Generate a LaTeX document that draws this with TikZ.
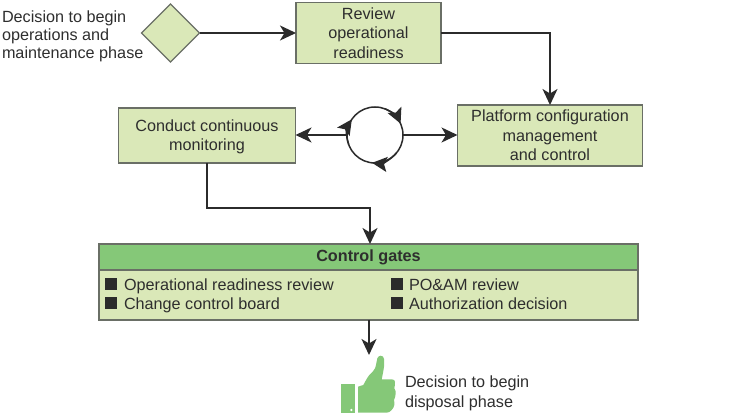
\documentclass[tikz,border=0pt]{standalone}
\usepackage{fontspec}
\setmainfont{Liberation Sans}
\usetikzlibrary{arrows.meta,shapes.geometric,positioning}
\definecolor{lightg}{HTML}{DAE8B8}
\definecolor{headg}{HTML}{85C878}
\definecolor{edgeg}{HTML}{6A6F66}
\definecolor{ink}{HTML}{2B2B2B}
\definecolor{txt}{HTML}{2E2E2E}
\tikzset{
  x=1pt,y=1pt,
  every node/.style={font=\fontsize{16.2}{19.3}\selectfont,text=txt,inner sep=0pt,outer sep=0pt},
  greenbox/.style={draw=edgeg,line width=1.1pt,fill=lightg,align=center,anchor=center},
  flow/.style={draw=ink,line width=1.7pt,-{Stealth[length=16pt,width=15pt,inset=4.5pt]}},
  hubarc/.style={draw=ink,line width=1.5pt,-{Stealth[length=15pt,width=15pt,inset=3pt]}},
  tick/.style={fill=ink,draw=none,minimum size=12pt},
  itemtext/.style={anchor=base west},
  sidelabel/.style={anchor=west,align=left,font=\fontsize{16.2}{18}\selectfont},
}
\begin{document}
\begin{tikzpicture}
\useasboundingbox (0,0) rectangle (733,415);
\node[greenbox,diamond,minimum width=58pt,minimum height=58pt,aspect=1] (start) at (170.5,382) {};
\node[sidelabel] (startlabel) at (2,379) {Decision to begin\\operations and\\maintenance phase};
\node[greenbox,minimum width=145pt,minimum height=61pt] (review) at (368.5,382) {Review\\operational\\readiness};
\node[greenbox,minimum width=185pt,minimum height=61pt] (platform) at (550,279.5) {Platform configuration\\management\\and control};
\node[greenbox,minimum width=177pt,minimum height=55pt] (conduct) at (207,279.5) {};
\node (conducttext) at (207,278.5) [align=center] {Conduct continuous\\monitoring};
\node[circle,draw=ink,line width=1.5pt,minimum size=56pt] (hub) at (375,280) {};
\node[greenbox,minimum width=539pt,minimum height=50pt] (gatesbody) at (368.5,120) {};
\node[greenbox,fill=headg,minimum width=539pt,minimum height=26pt,font=\fontsize{16.2}{19.3}\selectfont\bfseries] (gates) at (368.5,158) {Control gates};
\node[tick] (t1) at (111,131) {};
\node[tick] (t2) at (111,112) {};
\node[tick] (t3) at (396.5,131) {};
\node[tick] (t4) at (396.5,112) {};
\node[itemtext] (i1) at (124,124) {Operational readiness review};
\node[itemtext] (i2) at (124,105.5) {Change control board};
\node[itemtext] (i3) at (409,124) {PO\&AM review};
\node[itemtext] (i4) at (409,105.5) {Authorization decision};
\node[sidelabel,font=\fontsize{16.2}{20}\selectfont] (endlabel) at (405,22) {Decision to begin\\disposal phase};
\coordinate (thumb) at (369,60);
\draw[flow] (start.east) -- (review.west);
\draw[flow] (review.east |- start.east) -| (platform.north);
\draw[flow] (hub.west) -- (hub.west -| conduct.east);
\draw[flow] (hub.east) -- (hub.east -| platform.west);
\draw[flow] (conduct.south) |- (370,207) -- (370,171);
\draw[flow] (gatesbody.south -| thumb) -- (thumb);
% circulating arrowheads
\draw[hubarc] (hub.center) ++(70:28) arc[start angle=70,end angle=24,radius=28];
\draw[hubarc] (hub.center) ++(-40:28) arc[start angle=-40,end angle=-96,radius=28];
\draw[hubarc] (hub.center) ++(200:28) arc[start angle=200,end angle=146,radius=28];
% thumbs-up
\fill[headg] (341,2.3) rectangle (355.3,30.7);
\fill[white] (351.3,5) circle (1.3);
\fill[headg] (358,2.3) -- (358,28.3)
  -- (363.3,30)
  .. controls (365,33) and (367,37) .. (369.3,40)
  .. controls (372,43) and (374,44) .. (375,46.7)
  .. controls (376,49) and (376.5,53) .. (377.3,56.7)
  .. controls (378,58.5) and (379.5,59.3) .. (380.7,59.3)
  .. controls (382.5,59.3) and (384,58) .. (384,56)
  .. controls (384.3,52) and (384.3,50) .. (384,48.3)
  .. controls (383.5,44) and (382.5,40) .. (381.7,35.7)
  -- (391.7,35.7)
  .. controls (394,35.7) and (395,34.5) .. (395,33)
  .. controls (395,31) and (395,29) .. (394.3,26.7)
  .. controls (395.5,25) and (396,23) .. (395.7,21.7)
  .. controls (395.5,19) and (395,17) .. (394,15)
  .. controls (394.5,13) and (394.5,11.5) .. (394.3,10)
  .. controls (394,8) and (393,6.5) .. (391.7,5)
  .. controls (390.5,3.5) and (388.5,2.3) .. (386.7,2.3)
  -- cycle;
\end{tikzpicture}
\end{document}
